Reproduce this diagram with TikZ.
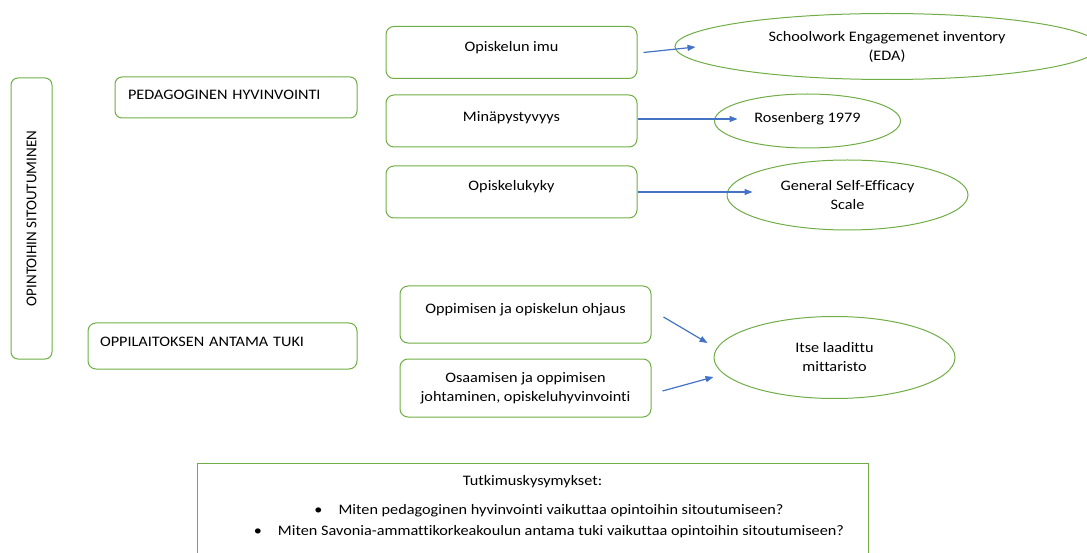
\documentclass[tikz,border=0pt]{standalone}
\usepackage{fontspec}
\setmainfont[FakeStretch=1.12, Ligatures=NoCommon]{Carlito}
\newfontfamily\vertfont[Ligatures=NoCommon]{Carlito}
\usetikzlibrary{shapes.geometric,arrows.meta}
\definecolor{boxgreen}{HTML}{70AD47}
\definecolor{arrowblue}{HTML}{4472C4}
\tikzset{
    rbox/.style={draw=boxgreen, line width=1pt, rounded corners=8pt, minimum width=251pt, minimum height=52pt, inner sep=0pt, align=center},
    raised/.style={text height=10pt, text depth=#1},
    raised/.default=10pt,
    oval/.style={draw=boxgreen, line width=1pt, ellipse, inner sep=0pt, align=center},
    qbox/.style={draw=boxgreen, line width=1pt, anchor=north, minimum width=671pt, inner xsep=0pt, inner ysep=12pt},
    link/.style={draw=arrowblue, line width=1.2pt, -{Triangle[length=8pt,width=6pt]}}
}
\begin{document}
\begin{tikzpicture}[x=1pt, y=-1pt, font=\fontsize{14.5}{19}\selectfont]
                \useasboundingbox (0,0) rectangle (1087,553);
                \clip (0,0) rectangle (1087,553);

                \node [rbox, rounded corners=7pt, minimum width=281pt, minimum height=41pt, rotate=90, font=\vertfont\fontsize{15}{18}\selectfont] (sitoutuminen) at (31.5,218.5) {OPINTOIHIN SITOUTUMINEN};
                \node [rbox, rounded corners=7pt, minimum width=242pt, minimum height=41pt, text width=216pt, align=left, raised=6pt] (pedagoginen) at (236,97.5) {PEDAGOGINEN HYVINVOINTI};
                \node [rbox, minimum width=269pt, minimum height=46pt, text width=245pt, align=left, raised] (tuki) at (222.5,346) {OPPILAITOKSEN ANTAMA TUKI};

                \node [rbox, raised=11pt] (imu) at (511.5,52.5) {Opiskelun imu};
                \node [rbox, raised=8pt] (minapystyvyys) at (511.5,121) {Minäpystyvyys};
                \node [rbox, raised=12pt] (opiskelukyky) at (511.5,192) {Opiskelukyky};
                \node [rbox, minimum height=57pt, raised=12pt] (ohjaus) at (525.5,314.5) {Oppimisen ja opiskelun ohjaus};
                \node [rbox, minimum height=58pt] (johtaminen) at (525.5,388) {Osaamisen ja oppimisen\\johtaminen, opiskeluhyvinvointi};

                \node [oval, minimum width=424pt, minimum height=66pt] (eda) at (887,46.5) {Schoolwork Engagemenet inventory\\(EDA)};
                \node [oval, minimum width=186pt, minimum height=54pt, raised=6pt] (rosenberg) at (807.5,121) {Rosenberg 1979};
                \node [oval, minimum width=241pt, minimum height=70pt] (gses) at (847.5,195) {General Self-Efficacy\\Scale};
                \node [oval, minimum width=241pt, minimum height=82pt] (mittaristo) at (834.5,357.5) {Itse laadittu\\mittaristo};

                \node [qbox] (kysymykset) at (532.5,463) {\parbox[t][100pt][t]{660pt}{\centering\fontsize{14.5}{21}\selectfont Tutkimuskysymykset:\\[8pt]\hspace*{33pt}\textbullet\hspace{16pt}Miten pedagoginen hyvinvointi vaikuttaa opintoihin sitoutumiseen?\\\hspace*{33pt}\textbullet\hspace{16pt}Miten Savonia-ammattikorkeakoulun antama tuki vaikuttaa opintoihin sitoutumiseen?}};

                \draw [link] ([xshift=6pt]imu.east) -- ([xshift=21pt,yshift=-0.5pt]eda.west);
                \draw [link] ([yshift=2pt]minapystyvyys.east) -- ([xshift=23.5pt,yshift=2pt]rosenberg.west);
                \draw [link] (opiskelukyky.east) -- ([xshift=26pt,yshift=3pt]gses.west);
                \draw [link] ([xshift=12pt,yshift=-2.5pt]ohjaus.east) -- ([xshift=-6pt,yshift=14.5pt]mittaristo.west);
                \draw [link] ([xshift=11pt,yshift=-3pt]johtaminen.east) -- ([yshift=-19.5pt]mittaristo.west);
\end{tikzpicture}
\end{document}
